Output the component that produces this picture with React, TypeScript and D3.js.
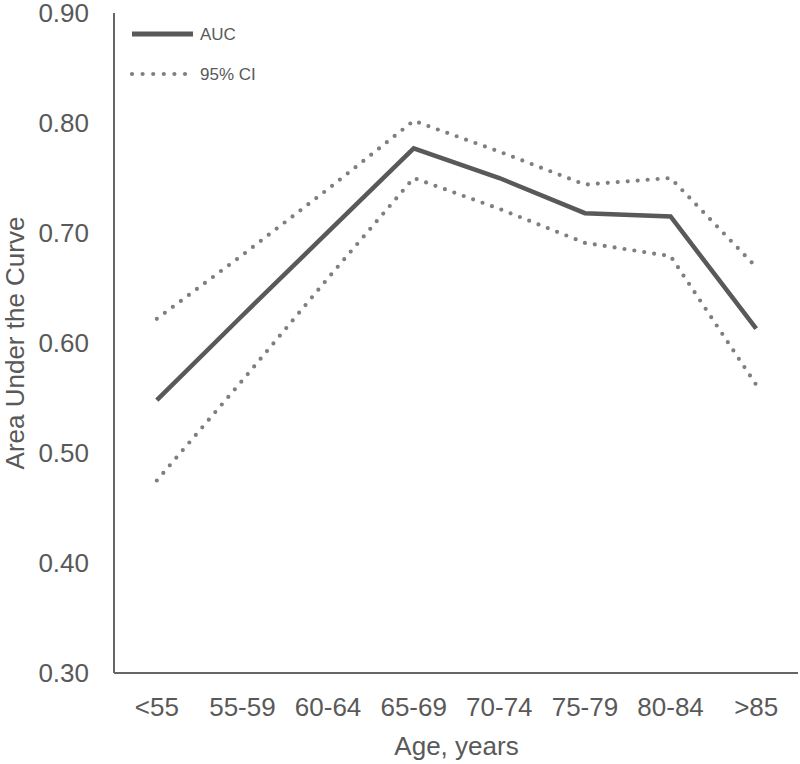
import React from 'react';
import * as d3 from 'd3';

const categories = ['<55', '55-59', '60-64', '65-69', '70-74', '75-79', '80-84', '>85'];
const auc = [0.548, 0.625, 0.701, 0.777, 0.75, 0.718, 0.715, 0.613];
const ciUpper = [0.622, 0.68, 0.74, 0.802, 0.774, 0.744, 0.75, 0.669];
const ciLower = [0.475, 0.566, 0.659, 0.75, 0.722, 0.691, 0.679, 0.562];
const yTicks = [0.3, 0.4, 0.5, 0.6, 0.7, 0.8, 0.9];

const width = 800;
const height = 764;
const margin = { top: 13, right: 1, bottom: 91, left: 114 };

const FONT = '"Liberation Sans", Arial, sans-serif';
const TEXT = '#595959';

const App: React.FC = () => {
  const x = d3.scalePoint<string>()
    .domain(categories)
    .range([margin.left, width - margin.right])
    .padding(0.5);

  const y = d3.scaleLinear()
    .domain([0.3, 0.9])
    .range([height - margin.bottom, margin.top]);

  const line = d3.line<number>()
    .x((_, i) => x(categories[i]) as number)
    .y((d) => y(d));

  const bottom = height - margin.bottom;

  return (
    <svg width={width} height={height} style={{ position: 'absolute', left: 0, top: 0, background: '#fff' }}>
      {/* axes */}
      <line x1={margin.left} x2={margin.left} y1={margin.top} y2={bottom} stroke="#666" strokeWidth={2} />
      <line x1={margin.left} x2={width - 2} y1={bottom} y2={bottom} stroke="#666" strokeWidth={2} />

      {yTicks.map((t) => (
        <text key={t} x={89} y={y(t)} dy="0.36em" textAnchor="end" fontSize={26} fontFamily={FONT} fill={TEXT}>
          {t.toFixed(2)}
        </text>
      ))}

      {categories.map((c) => (
        <text key={c} x={x(c)} y={716} textAnchor="middle" fontSize={26} fontFamily={FONT} fill={TEXT}>
          {c}
        </text>
      ))}

      <text x={(margin.left + width - margin.right) / 2} y={755} textAnchor="middle" fontSize={26} fontFamily={FONT} fill={TEXT}>
        Age, years
      </text>
      <text transform={`translate(24,${(margin.top + bottom) / 2}) rotate(-90)`} textAnchor="middle" fontSize={26} fontFamily={FONT} fill={TEXT}>
        Area Under the Curve
      </text>

      {/* CI lines */}
      {[ciUpper, ciLower].map((s, k) => (
        <path key={k} d={line(s) ?? ''} fill="none" stroke="#7f7f7f" strokeWidth={4.2}
          strokeLinecap="round" strokeDasharray="0 10" />
      ))}

      {/* AUC line */}
      <path d={line(auc) ?? ''} fill="none" stroke="#595959" strokeWidth={4.5} strokeLinejoin="miter" />

      {/* legend */}
      <line x1={132} x2={193} y1={34} y2={34} stroke="#595959" strokeWidth={5} />
      <text x={200} y={34} dy="0.36em" fontSize={17} fontFamily={FONT} fill={TEXT}>AUC</text>
      <line x1={132} x2={186} y1={74} y2={74} stroke="#7f7f7f" strokeWidth={4.2} strokeLinecap="round" strokeDasharray="0 10.6" />
      <text x={200} y={74} dy="0.36em" fontSize={17} fontFamily={FONT} fill={TEXT}>95% CI</text>
    </svg>
  );
};

export default App;
